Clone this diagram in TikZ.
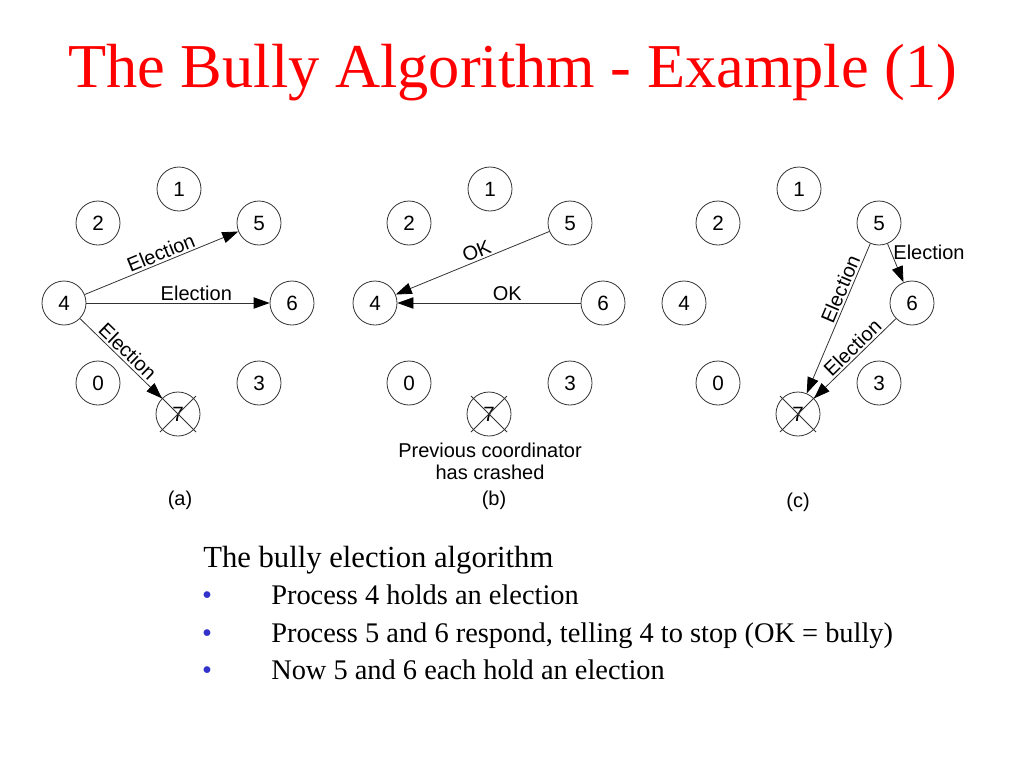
\documentclass[tikz,border=0pt]{standalone}
\usepackage{fontspec}
\setmainfont{Liberation Serif}
\newfontfamily\arialf{Liberation Sans}
\usetikzlibrary{arrows.meta}
\definecolor{bulletblue}{RGB}{51,51,204}
\definecolor{linegray}{RGB}{50,50,50}
\tikzset{
  proc/.style={circle, draw=linegray, line width=0.6pt, minimum size=33pt, inner sep=0pt,
    font=\arialf\fontsize{15.5}{18}\selectfont},
  msg/.style={draw=linegray, line width=0.6pt, -{Triangle[length=12pt,width=8.5pt,color=black]}},
  lbl/.style={font=\arialf\fontsize{15}{18}\selectfont, inner sep=1.5pt},
  crossln/.style={draw=linegray, line width=0.6pt},
  body/.style={font=\fontsize{23}{27}\selectfont, anchor=base west, inner sep=0pt},
  item/.style={font=\fontsize{21.3}{25}\selectfont, anchor=base west, inner sep=0pt},
  bul/.style={font=\fontsize{21.3}{25}\selectfont, text=bulletblue, anchor=base, inner sep=0pt},
}
\newcommand\procs[2]{%
  \node[proc] (#1-1) at (#2+179,189) {1};
  \node[proc] (#1-2) at (#2+98,223) {2};
  \node[proc] (#1-5) at (#2+259,223) {5};
  \node[proc] (#1-4) at (#2+64,303) {4};
  \node[proc] (#1-6) at (#2+292,303) {6};
  \node[proc] (#1-0) at (#2+98,383) {0};
  \node[proc] (#1-3) at (#2+259,383) {3};
  \node[proc] (#1-7) at (#2+178,414) {7};
  \draw[crossln] ([shift={(-18,-18)}]#1-7.center) -- ([shift={(18,18)}]#1-7.center);
  \draw[crossln] ([shift={(18,-18)}]#1-7.center) -- ([shift={(-18,18)}]#1-7.center);
}
\begin{document}
\begin{tikzpicture}[x=0.75pt,y=-0.75pt]
\useasboundingbox (0,0) rectangle (1024,768);
% title
\node[anchor=base west, inner sep=0pt, text=red, font=\fontsize{46.8}{50}\selectfont] (title) at (68,87) {The Bully Algorithm - Example (1)};
% panels
\procs{a}{0}
\procs{b}{311}
\procs{c}{620}
% (a)
\draw[msg] (a-4) -- node[lbl, sloped, above, pos=0.52] {Election} (a-5);
\draw[msg] (a-4) -- node[lbl, above, pos=0.6] {Election} (a-6);
\draw[msg] (a-4) -- node[lbl, sloped, above, pos=0.5] {Election} (a-7);
% (b)
\draw[msg] (b-5) -- node[lbl, sloped, above, pos=0.45] {OK} (b-4);
\draw[msg] (b-6) -- node[lbl, above, pos=0.4] {OK} (b-4);
% (c)
\draw[msg] (c-5) -- node[lbl, sloped, above, pos=0.33] {Election} (c-7);
\draw[msg] (c-5) -- node[lbl, anchor=west, pos=0.22] {Election} (c-6);
\draw[msg] (c-6) -- node[lbl, sloped, above, pos=0.45] {Election} (c-7);
% captions
\node[lbl, align=center, font=\arialf\fontsize{15}{16.5}\selectfont] (crash) at (490,461) {Previous coordinator\\has crashed};
\node[lbl] (capa) at (180,500) {(a)};
\node[lbl] (capb) at (494,500) {(b)};
\node[lbl] (capc) at (798,502) {(c)};
% bottom text
\node[body] (t0) at (203,567) {The bully election algorithm};
\node[bul] (b1) at (207,604) {•};
\node[bul] (b2) at (207,642) {•};
\node[bul] (b3) at (207,679) {•};
\node[item] (t1) at (271,604) {Process 4 holds an election};
\node[item] (t2) at (271,642) {Process 5 and 6 respond, telling 4 to stop (OK = bully)};
\node[item] (t3) at (271,679) {Now 5 and 6 each hold an election};
\end{tikzpicture}
\end{document}
